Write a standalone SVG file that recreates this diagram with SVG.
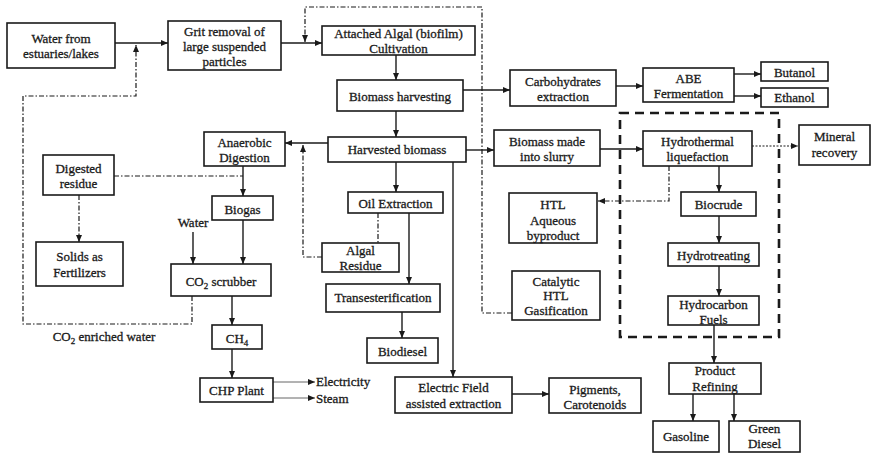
<svg xmlns="http://www.w3.org/2000/svg" width="871" height="454" viewBox="0 0 871 454">
<defs>
<marker id="ah" markerUnits="userSpaceOnUse" markerWidth="8" markerHeight="7" refX="7" refY="3" orient="auto"><path d="M0,0 L7,3 L0,6 z" fill="#1a1a1a"/></marker>
<style>
.b{fill:#fff;stroke:#1a1a1a;stroke-width:1.6}
.t{font-family:"Liberation Serif","Times New Roman",serif;font-size:13px;fill:#1a1a1a;stroke:#1a1a1a;stroke-width:0.3;text-anchor:middle}
.tl{font-family:"Liberation Serif","Times New Roman",serif;font-size:13px;fill:#1a1a1a;stroke:#1a1a1a;stroke-width:0.3}
.c{fill:none;stroke:#1a1a1a;stroke-width:1.4}
.ca{fill:none;stroke:#1a1a1a;stroke-width:1.4;marker-end:url(#ah)}
.thin{fill:none;stroke:#666;stroke-width:1;marker-end:url(#ah)}
.dd{fill:none;stroke:#1a1a1a;stroke-width:1.2;stroke-dasharray:5 2 1.5 2}
.dda{fill:none;stroke:#1a1a1a;stroke-width:1.2;stroke-dasharray:5 2 1.5 2;marker-end:url(#ah)}
.dot{fill:none;stroke:#1a1a1a;stroke-width:1.2;stroke-dasharray:2 1.5;marker-end:url(#ah)}
.dash{fill:none;stroke:#1a1a1a;stroke-width:2.6;stroke-dasharray:9 6}
</style>
</defs>
<rect width="871" height="454" fill="#fff"/>

<g id="connectors">
<path class="ca" d="M115,43 H168"/>
<path class="ca" d="M281,43 H322"/>
<path class="ca" d="M396,55 V80"/>
<path class="ca" d="M396,111 V137"/>
<path class="ca" d="M463,90 H510"/>
<path class="ca" d="M328,143 H285"/>
<path class="ca" d="M466,150 H494"/>
<path class="ca" d="M396,162 V192"/>
<path class="ca" d="M409,213 V284"/>
<path class="ca" d="M402,312 V338"/>
<path class="ca" d="M453,162 V377"/>
<path class="ca" d="M512,394 H549"/>
<path class="ca" d="M616,86 H643"/>
<path class="ca" d="M734,74 H761"/>
<path class="ca" d="M734,96 H761"/>
<path class="ca" d="M600,149 H643"/>
<path class="ca" d="M719,166 V192"/>
<path class="ca" d="M719,216 V243"/>
<path class="ca" d="M719,266 V296"/>
<path class="ca" d="M714,325 V363"/>
<path class="ca" d="M693,394 V421"/>
<path class="ca" d="M734,394 V421"/>
<path class="ca" d="M243,166 V196"/>
<path class="ca" d="M193,232 V264"/>
<path class="ca" d="M243,220 V264"/>
<path class="ca" d="M232,296 V325"/>
<path class="ca" d="M232,349 V378"/>
<path class="thin" d="M273,382 H315"/>
<path class="thin" d="M273,398 H315"/>
<path class="dd" d="M114,176 H243"/>
<path class="dda" d="M79,195 V242"/>
<path class="dda" d="M192,296 V324 H23 V96 H136 V45"/>
<path class="dda" d="M322,257 H303 V145"/>
<path class="dd" d="M378,213 V243"/>
<path class="dda" d="M512,313 H482 V7 H305 V42"/>
<path class="dda" d="M669,166 V201 H598"/>
<path class="dot" d="M752,146 H798"/>
<rect class="dash" x="620" y="113" width="159" height="224" fill="none"/>
</g>

<g id="water"><rect class="b" x="7" y="23" width="108" height="45"/><text class="t" x="61" y="43">Water from</text><text class="t" x="61" y="58">estuaries/lakes</text></g>
<g id="grit"><rect class="b" x="168" y="21" width="113" height="49"/><text class="t" x="224.5" y="36">Grit removal of</text><text class="t" x="224.5" y="51">large suspended</text><text class="t" x="224.5" y="66">particles</text></g>
<g id="cultivation"><rect class="b" x="322" y="26" width="153" height="29"/><text class="t" x="398.5" y="38">Attached Algal (biofilm)</text><text class="t" x="398.5" y="53">Cultivation</text></g>
<g id="harvesting"><rect class="b" x="337" y="80" width="126" height="31"/><text class="t" x="400" y="101">Biomass harvesting</text></g>
<g id="harvested"><rect class="b" x="328" y="137" width="138" height="25"/><text class="t" x="397" y="154">Harvested biomass</text></g>
<g id="anaerobic"><rect class="b" x="204" y="132" width="81" height="34"/><text class="t" x="244.5" y="147">Anaerobic</text><text class="t" x="244.5" y="162">Digestion</text></g>
<g id="digested"><rect class="b" x="43" y="155" width="71" height="40"/><text class="t" x="78.5" y="173">Digested</text><text class="t" x="78.5" y="188">residue</text></g>
<g id="biogas"><rect class="b" x="212" y="196" width="61" height="24"/><text class="t" x="242.5" y="214">Biogas</text></g>
<g id="solids"><rect class="b" x="36" y="242" width="87" height="44"/><text class="t" x="79.5" y="261">Solids as</text><text class="t" x="79.5" y="277">Fertilizers</text></g>
<g id="water-label"><text class="t" x="193" y="227">Water</text></g>
<g id="scrubber"><rect class="b" x="171" y="264" width="100" height="32"/><text class="t" x="221" y="286">CO<tspan font-size="9" dy="3">2</tspan><tspan dy="-3"> scrubber</tspan></text></g>
<g id="co2-label"><text class="t" x="104" y="341">CO<tspan font-size="9" dy="3">2</tspan><tspan dy="-3">  enriched water</tspan></text></g>
<g id="ch4"><rect class="b" x="212" y="325" width="50" height="24"/><text class="t" x="237" y="343">CH<tspan font-size="9" dy="3">4</tspan></text></g>
<g id="chp"><rect class="b" x="200" y="378" width="73" height="24"/><text class="t" x="236.5" y="395">CHP Plant</text></g>
<g id="electricity"><text class="tl" x="316" y="386">Electricity</text></g>
<g id="steam"><text class="tl" x="316" y="403">Steam</text></g>
<g id="oil"><rect class="b" x="348" y="192" width="95" height="21"/><text class="t" x="395.5" y="208">Oil Extraction</text></g>
<g id="residue"><rect class="b" x="322" y="243" width="77" height="29"/><text class="t" x="360.5" y="255">Algal</text><text class="t" x="360.5" y="270">Residue</text></g>
<g id="transest"><rect class="b" x="326" y="284" width="114" height="28"/><text class="t" x="383" y="302">Transesterification</text></g>
<g id="biodiesel"><rect class="b" x="367" y="338" width="71" height="25"/><text class="t" x="402.5" y="356">Biodiesel</text></g>
<g id="electric"><rect class="b" x="395" y="377" width="117" height="36"/><text class="t" x="453.5" y="392">Electric Field</text><text class="t" x="453.5" y="408">assisted extraction</text></g>
<g id="pigments"><rect class="b" x="549" y="378" width="92" height="35"/><text class="t" x="595" y="394">Pigments,</text><text class="t" x="595" y="409">Carotenoids</text></g>
<g id="carbo"><rect class="b" x="510" y="70" width="106" height="36"/><text class="t" x="563" y="86">Carbohydrates</text><text class="t" x="563" y="101">extraction</text></g>
<g id="abe"><rect class="b" x="643" y="68" width="91" height="34"/><text class="t" x="688.5" y="83">ABE</text><text class="t" x="688.5" y="98">Fermentation</text></g>
<g id="butanol"><rect class="b" x="761" y="62" width="67" height="19"/><text class="t" x="794.5" y="77">Butanol</text></g>
<g id="ethanol"><rect class="b" x="761" y="88" width="67" height="19"/><text class="t" x="794.5" y="102">Ethanol</text></g>
<g id="slurry"><rect class="b" x="494" y="130" width="106" height="36"/><text class="t" x="547" y="146">Biomass made</text><text class="t" x="547" y="161">into slurry</text></g>
<g id="htl"><rect class="b" x="643" y="131" width="109" height="35"/><text class="t" x="697.5" y="146">Hydrothermal</text><text class="t" x="697.5" y="161">liquefaction</text></g>
<g id="mineral"><rect class="b" x="799" y="125" width="71" height="40"/><text class="t" x="834.5" y="141">Mineral</text><text class="t" x="834.5" y="157">recovery</text></g>
<g id="aqueous"><rect class="b" x="509" y="193" width="88" height="50"/><text class="t" x="553" y="209">HTL</text><text class="t" x="553" y="225">Aqueous</text><text class="t" x="553" y="240">byproduct</text></g>
<g id="catalytic"><rect class="b" x="512" y="271" width="88" height="49"/><text class="t" x="556" y="286">Catalytic</text><text class="t" x="556" y="300">HTL</text><text class="t" x="556" y="315">Gasification</text></g>
<g id="biocrude"><rect class="b" x="681" y="192" width="75" height="24"/><text class="t" x="718.5" y="209">Biocrude</text></g>
<g id="hydrotreating"><rect class="b" x="668" y="243" width="91" height="23"/><text class="t" x="713.5" y="260">Hydrotreating</text></g>
<g id="hydrocarbon"><rect class="b" x="668" y="296" width="91" height="29"/><text class="t" x="713.5" y="309">Hydrocarbon</text><text class="t" x="713.5" y="324">Fuels</text></g>
<g id="refining"><rect class="b" x="669" y="363" width="92" height="31"/><text class="t" x="715" y="375">Product</text><text class="t" x="715" y="391">Refining</text></g>
<g id="gasoline"><rect class="b" x="653" y="421" width="66" height="31"/><text class="t" x="686" y="441">Gasoline</text></g>
<g id="greendiesel"><rect class="b" x="729" y="421" width="71" height="31"/><text class="t" x="764.5" y="433">Green</text><text class="t" x="764.5" y="448">Diesel</text></g>
</svg>
